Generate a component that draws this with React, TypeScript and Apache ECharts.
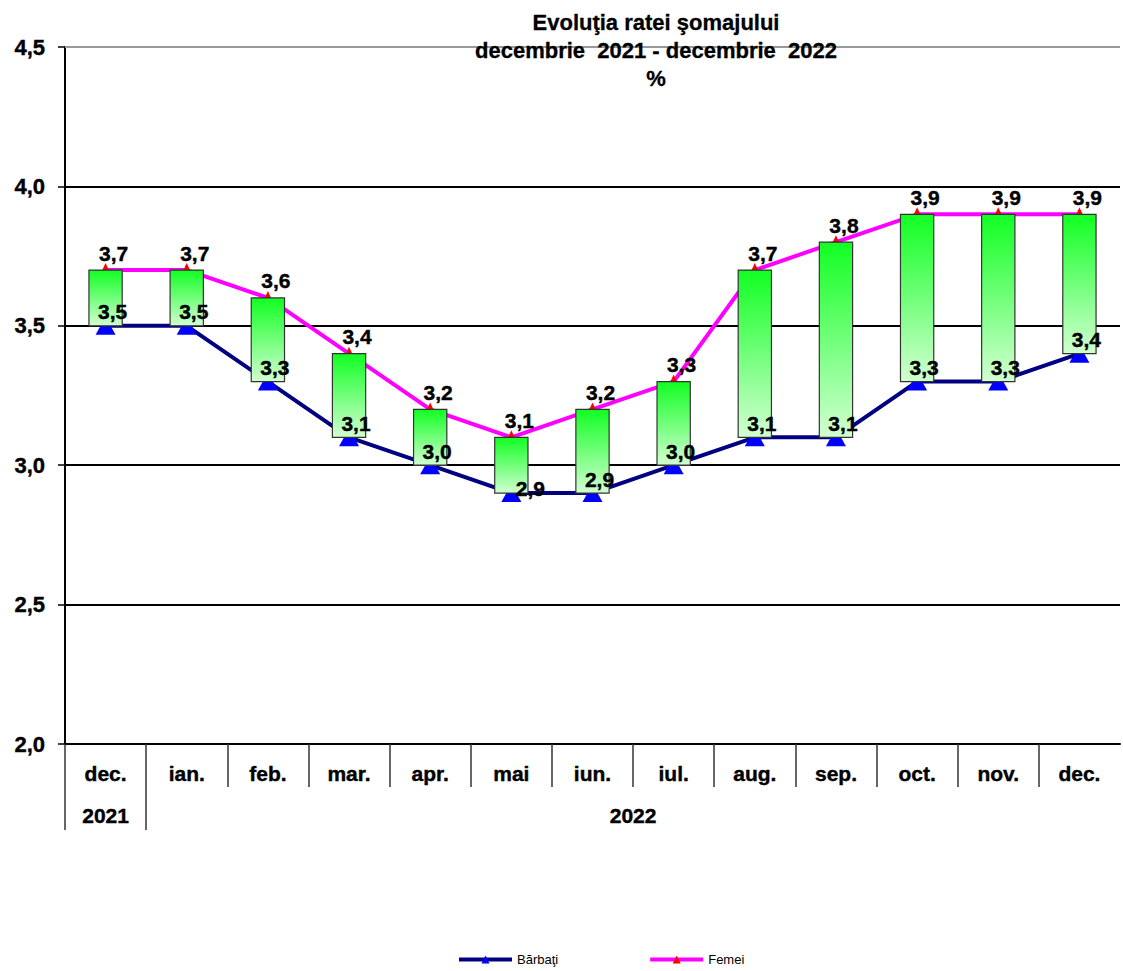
import React, { useEffect, useRef } from "react";
import * as echarts from "echarts";

const MONTHS = ["dec.", "ian.", "feb.", "mar.", "apr.", "mai", "iun.", "iul.", "aug.", "sep.", "oct.", "nov.", "dec."];
const BARBATI = [3.5, 3.5, 3.3, 3.1, 3.0, 2.9, 2.9, 3.0, 3.1, 3.1, 3.3, 3.3, 3.4];
const FEMEI = [3.7, 3.7, 3.6, 3.4, 3.2, 3.1, 3.2, 3.3, 3.7, 3.8, 3.9, 3.9, 3.9];
const YEARS = ["2021", "2022"];
const YEAR_SPANS = [[0, 1], [1, 13]];
const Y_TICKS = [2.0, 2.5, 3.0, 3.5, 4.0, 4.5];
const TITLE = "Evoluţia ratei şomajului\ndecembrie  2021 - decembrie  2022\n%";
const SERIES_NAMES = ["Bărbaţi", "Femei"];

const FONT = 'Arial, "Liberation Sans", sans-serif';
const fmt = (v: number) => v.toFixed(1).replace(".", ",");

export default function App() {
  const ref = useRef<HTMLDivElement>(null);
  useEffect(() => {
    document.body.style.margin = "0";
    const chart = echarts.init(ref.current!, null, { renderer: "svg" });
    const yearMid = YEAR_SPANS.map(([a, b]) => (a + b) / 2);
    const yearTicks = Array.from(new Set(YEAR_SPANS.flat().filter((v) => v < MONTHS.length)));
    const monthTicks = MONTHS.map((_, i) => i);
    const barData = MONTHS.map((_, i) => [i, BARBATI[i], FEMEI[i]]);
    const labelStyle = {
      fontFamily: FONT,
      fontWeight: "bold",
      fontSize: 21,
      color: "#000",
      textBorderColor: "#000",
      textBorderWidth: 0.4,
    };
    const tickLine = { color: "#333", width: 1.5 };

    chart.setOption({
      animation: false,
      backgroundColor: "#fff",
      textStyle: { fontFamily: FONT },
      graphic: [
        {
          type: "text",
          x: 656,
          y: 8,
          z: 10,
          style: {
            text: TITLE,
            textAlign: "center",
            font: `bold 22px ${FONT}`,
            lineHeight: 28,
            fill: "#000",
            stroke: "#000",
            lineWidth: 0.3,
          },
        },
      ],
      legend: {
        data: SERIES_NAMES,
        left: 452,
        bottom: 0,
        itemWidth: 53,
        itemHeight: 10,
        itemGap: 90,
        lineStyle: { width: 4 },
        textStyle: { fontFamily: FONT, fontSize: 13, color: "#000" },
      },
      grid: { left: 65, right: 3, top: 47, bottom: 227, outerBoundsMode: "none" },
      xAxis: [
        {
          type: "category",
          data: MONTHS,
          boundaryGap: true,
          axisLine: { lineStyle: { color: "#000", width: 2 } },
          axisTick: { show: false },
          axisLabel: { interval: 0, margin: 19, ...labelStyle },
          splitLine: { show: false },
        },
        {
          type: "value",
          position: "bottom",
          min: 0,
          max: MONTHS.length,
          axisLine: { show: false },
          axisTick: { show: true, customValues: monthTicks, length: 43, lineStyle: tickLine },
          axisLabel: { show: false },
          splitLine: { show: false },
        },
        {
          type: "value",
          position: "bottom",
          offset: 43,
          min: 0,
          max: MONTHS.length,
          axisLine: { show: false },
          axisTick: { show: true, customValues: yearTicks, length: 43, lineStyle: tickLine },
          axisLabel: {
            customValues: yearMid,
            margin: 18,
            formatter: (v: number) => YEARS[yearMid.indexOf(v)] ?? "",
            ...labelStyle,
          },
          splitLine: { show: false },
        },
      ],
      yAxis: {
        type: "value",
        min: Y_TICKS[0],
        max: Y_TICKS[Y_TICKS.length - 1],
        interval: 0.5,
        axisLine: { show: true, lineStyle: { color: "#000", width: 2 } },
        axisTick: { show: true, length: 7, lineStyle: { color: "#000", width: 1.5 } },
        axisLabel: { margin: 20, formatter: (v: number) => fmt(v), ...labelStyle, fontSize: 22 },
        splitLine: { show: true, showMaxLine: false, lineStyle: { color: "#000", width: 2 } },
      },
      series: [
        {
          name: SERIES_NAMES[0],
          type: "line",
          data: BARBATI,
          z: 2,
          color: "#0000ff",
          lineStyle: { color: "#000080", width: 4 },
          symbol: "triangle",
          symbolSize: [20, 18],
          itemStyle: { color: "#0000ff" },
          markLine: {
            silent: true,
            symbol: "none",
            label: { show: false },
            lineStyle: { color: "#999", type: "solid", width: 2 },
            data: [{ yAxis: Y_TICKS[Y_TICKS.length - 1] }],
          },
        },
        {
          name: SERIES_NAMES[1],
          type: "line",
          data: FEMEI,
          z: 2,
          color: "#ff0000",
          lineStyle: { color: "#ff00ff", width: 4 },
          symbol: "triangle",
          symbolSize: [13, 14],
          itemStyle: { color: "#ff0000" },
        },
        {
          type: "custom",
          z: 3,
          data: barData,
          encode: { x: 0, y: [1, 2] },
          renderItem: (params: any, api: any) => {
            const low = api.coord([api.value(0), api.value(1)]);
            const high = api.coord([api.value(0), api.value(2)]);
            const w = api.size([1, 0])[0] * 0.41;
            return {
              type: "rect",
              shape: { x: low[0] - w / 2, y: high[1], width: w, height: low[1] - high[1] },
              style: {
                fill: new echarts.graphic.LinearGradient(0, 0, 0, 1, [
                  { offset: 0, color: "#11ff22" },
                  { offset: 1, color: "#d2ffd2" },
                ]),
                stroke: "#333",
                lineWidth: 1.2,
              },
            };
          },
        },
        {
          name: "lblB",
          type: "scatter",
          z: 5,
          data: BARBATI.map((v, i) =>
            i === 5
              ? { value: v, label: { offset: [19, -5] } }
              : v
          ),
          symbolSize: 0.1,
          itemStyle: { color: "transparent", opacity: 1 },
          label: { show: true, opacity: 1, position: "inside", offset: [7, -14], formatter: (p: any) => fmt(p.value), ...labelStyle },
        },
        {
          name: "lblF",
          type: "scatter",
          z: 5,
          data: FEMEI,
          symbolSize: 0.1,
          itemStyle: { color: "transparent", opacity: 1 },
          label: { show: true, opacity: 1, position: "inside", offset: [8, -17], formatter: (p: any) => fmt(p.value), ...labelStyle },
        },
      ],
    });
    return () => chart.dispose();
  }, []);
  return <div ref={ref} style={{ width: 1123, height: 971 }} />;
}
